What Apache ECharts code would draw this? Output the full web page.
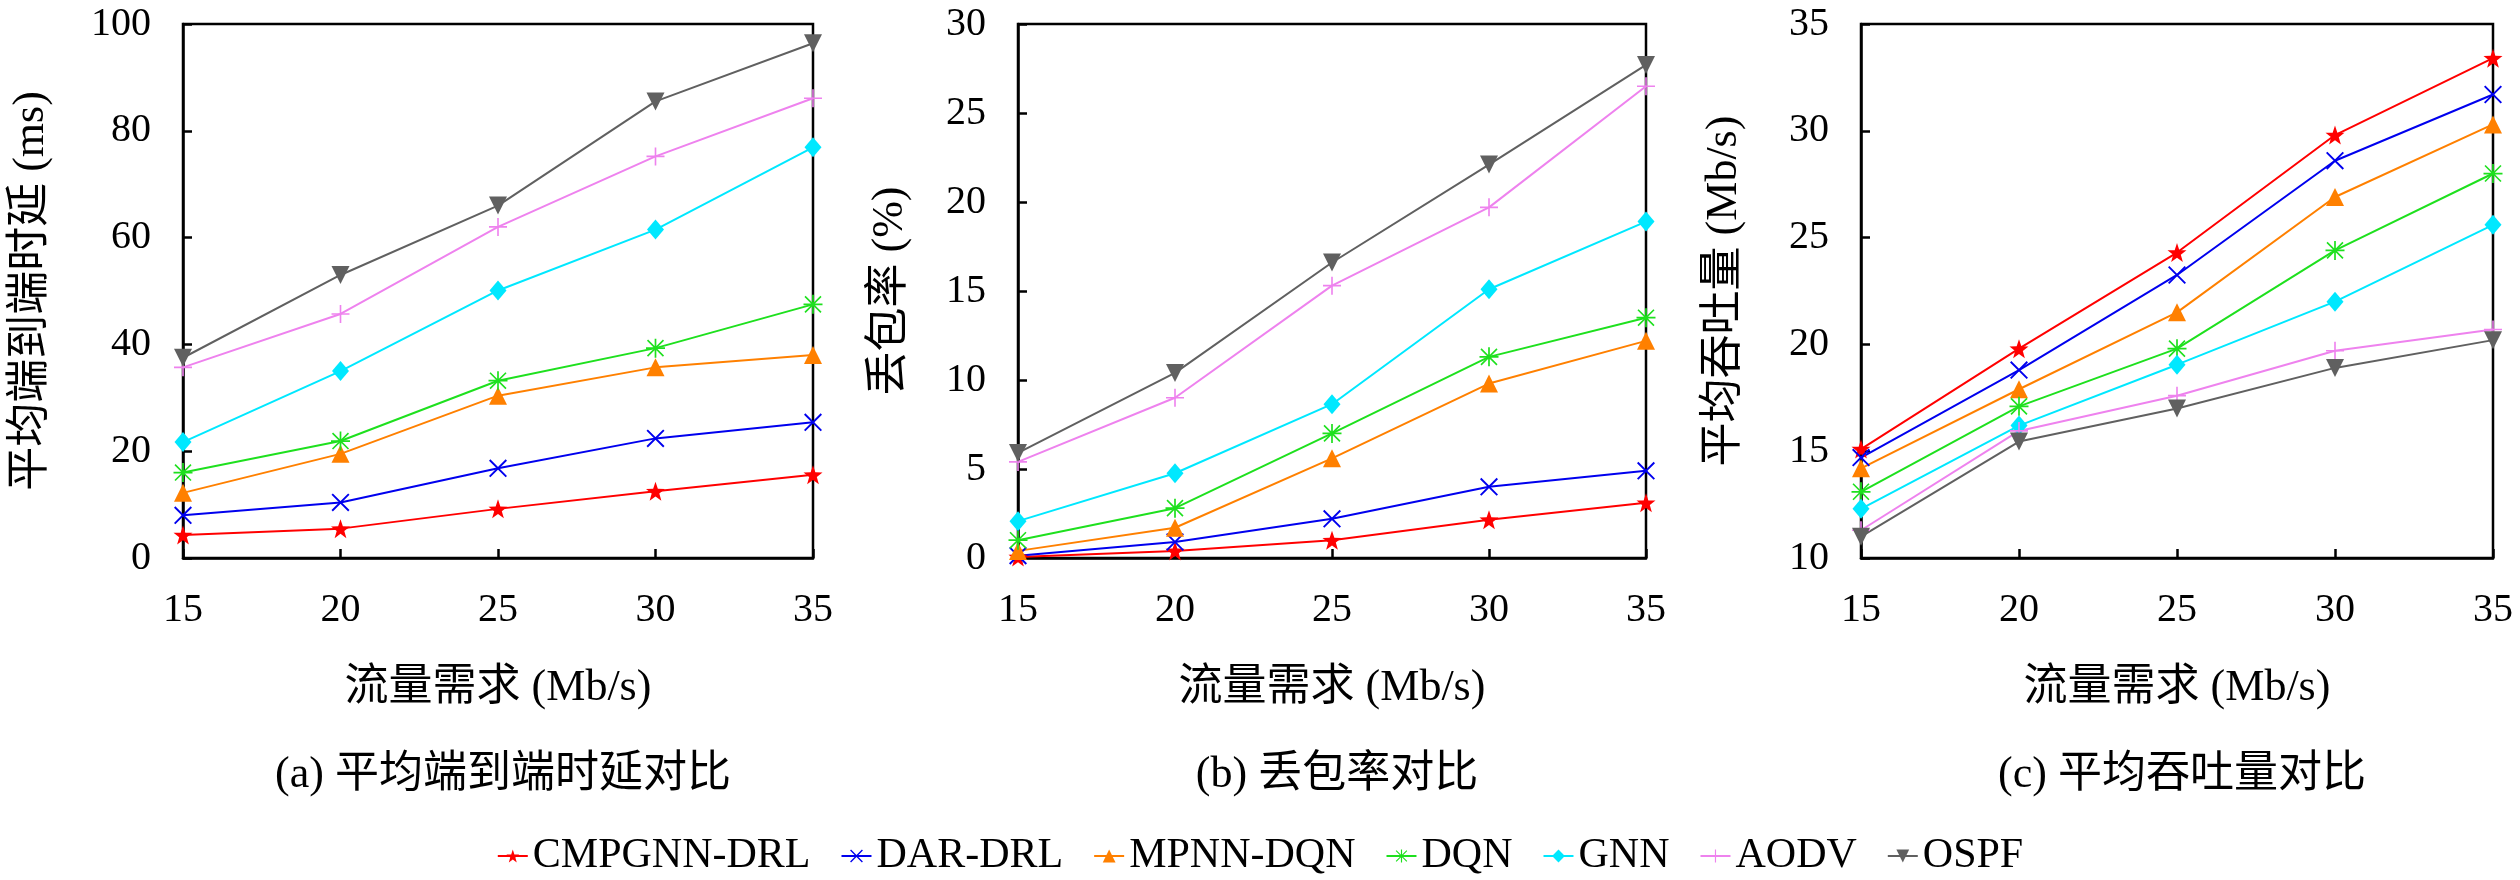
<!DOCTYPE html>
<html>
<head>
<meta charset="utf-8">
<script src="https://cdn.jsdelivr.net/npm/echarts@6/dist/echarts.min.js"></script>
<style>
  html, body { margin: 0; padding: 0; background: #fff; }
  #main { width: 2520px; height: 880px; }
</style>
</head>
<body>
<div id="main"></div>
<script>
var chart = echarts.init(document.getElementById('main'));

// 流量需求 (Mb/s)
var traffic = [15, 20, 25, 30, 35];
var methods = ['CMPGNN-DRL', 'DAR-DRL', 'MPNN-DQN', 'DQN', 'GNN', 'AODV', 'OSPF'];

// (a) 平均端到端时延 (ms)
var delayCMPGNN = [4.3, 5.5, 9.2, 12.5, 15.6];
var delayDAR    = [8.0, 10.4, 16.8, 22.4, 25.4];
var delayMPNN   = [12.2, 19.5, 30.4, 35.7, 38.0];
var delayDQN    = [16.0, 21.9, 33.2, 39.3, 47.5];
var delayGNN    = [21.7, 35.0, 50.1, 61.5, 76.9];
var delayAODV   = [35.7, 45.7, 62.0, 75.2, 86.1];
var delayOSPF   = [37.5, 53.0, 66.0, 85.5, 96.4];

// (b) 丢包率 (%)
var lossCMPGNN = [0.06, 0.4, 1.0, 2.15, 3.1];
var lossDAR    = [0.13, 0.9, 2.2, 4.0, 4.9];
var lossMPNN   = [0.4, 1.7, 5.6, 9.8, 12.2];
var lossDQN    = [1.0, 2.8, 7.0, 11.3, 13.5];
var lossGNN    = [2.07, 4.76, 8.64, 15.1, 18.9];
var lossAODV   = [5.4, 9.0, 15.3, 19.7, 26.5];
var lossOSPF   = [5.9, 10.4, 16.6, 22.1, 27.7];

// (c) 平均吞吐量 (Mb/s)
var thrCMPGNN = [15.1, 19.8, 24.3, 29.8, 33.4];
var thrDAR    = [14.7, 18.8, 23.25, 28.6, 31.7];
var thrMPNN   = [14.2, 17.9, 21.5, 26.9, 30.3];
var thrDQN    = [13.1, 17.1, 19.8, 24.4, 28.0];
var thrGNN    = [12.3, 16.2, 19.05, 22.0, 25.6];
var thrAODV   = [11.3, 15.95, 17.6, 19.7, 20.7];
var thrOSPF   = [11.0, 15.45, 17.0, 18.9, 20.2];

var delayData = [delayCMPGNN, delayDAR, delayMPNN, delayDQN, delayGNN, delayAODV, delayOSPF];
var lossData  = [lossCMPGNN, lossDAR, lossMPNN, lossDQN, lossGNN, lossAODV, lossOSPF];
var thrData   = [thrCMPGNN, thrDAR, thrMPNN, thrDQN, thrGNN, thrAODV, thrOSPF];

var colors = ['#ff0000', '#0000ee', '#ff8000', '#1ee01e', '#00e8ff', '#ee82ee', '#606060'];

var starPath  = 'path://M0,-10 L2.351,-3.236 L9.511,-3.09 L3.804,1.236 L5.878,8.09 L0,4 L-5.878,8.09 L-3.804,1.236 L-9.511,-3.09 L-2.351,-3.236 Z';
var crossPath = 'path://M-8.5,-10 L10,8.5 L8.5,10 L-10,-8.5 Z M8.5,-10 L10,-8.5 L-8.5,10 L-10,8.5 Z';
var plusPath  = 'path://M-0.9,-10 L0.9,-10 L0.9,-0.9 L10,-0.9 L10,0.9 L0.9,0.9 L0.9,10 L-0.9,10 L-0.9,0.9 L-10,0.9 L-10,-0.9 L-0.9,-0.9 Z';
var astPath   = 'path://M-0.9,-10 L0.9,-10 L0.9,-0.9 L10,-0.9 L10,0.9 L0.9,0.9 L0.9,10 L-0.9,10 L-0.9,0.9 L-10,0.9 L-10,-0.9 L-0.9,-0.9 Z M-7.8,-9 L9,7.8 L7.8,9 L-9,-7.8 Z M7.8,-9 L9,-7.8 L-7.8,9 L-9,7.8 Z';

var symbols = [starPath, crossPath, 'triangle', astPath, 'diamond', plusPath, 'triangle'];
var symbolSizes = [19, 18, 18, 19, [17, 20], 18, 18];
var symbolRotates = [0, 0, 0, 0, 0, 0, 180];

var serif = 'Liberation Serif, Noto Sans CJK SC, serif';

var grids = [
  {left: 183, top: 24, width: 630, height: 534},
  {left: 1018, top: 24, width: 628, height: 534},
  {left: 1861, top: 24, width: 632, height: 534}
];
grids.forEach(function(g){
  g.show = true;
  g.borderColor = '#000';
  g.borderWidth = 2.5;
  g.backgroundColor = 'transparent';
});

function axisBase(i, name, gap){
  return {
    gridIndex: i,
    type: 'value',
    name: name, nameLocation: 'middle', nameGap: gap,
    nameTextStyle: {fontFamily: serif, fontSize: 44, color: '#000'},
    axisLine: {lineStyle: {color: '#000', width: 2.5}},
    axisTick: {inside: true, length: 9, lineStyle: {color: '#000', width: 2.5}},
    axisLabel: {fontFamily: serif, fontSize: 40, color: '#000', margin: 32},
    splitLine: {show: false}
  };
}

function xAxisFor(i){
  var ax = axisBase(i, '流量需求 (Mb/s)', 108);
  ax.min = 15; ax.max = 35; ax.interval = 5;
  return ax;
}

function yAxisFor(i, name, min, max, interval, gap){
  var ax = axisBase(i, name, gap);
  ax.min = min; ax.max = max; ax.interval = interval;
  return ax;
}

var series = [];
[delayData, lossData, thrData].forEach(function(panel, p){
  panel.forEach(function(vals, m){
    series.push({
      name: methods[m],
      type: 'line',
      xAxisIndex: p,
      yAxisIndex: p,
      data: traffic.map(function(t, k){ return [t, vals[k]]; }),
      symbol: symbols[m],
      symbolSize: symbolSizes[m],
      symbolRotate: symbolRotates[m],
      showAllSymbol: true,
      clip: false,
      lineStyle: {color: colors[m], width: 2},
      itemStyle: {color: colors[m]},
      animation: false
    });
  });
});

var captions = ['(a) 平均端到端时延对比', '(b) 丢包率对比', '(c) 平均吞吐量对比'];

chart.setOption({
  backgroundColor: '#fff',
  animation: false,
  textStyle: {fontFamily: serif, color: '#000'},
  title: captions.map(function(c, i){
    return {
      text: c,
      left: grids[i].left + grids[i].width / 2,
      top: 748,
      textAlign: 'center',
      textStyle: {fontFamily: serif, fontSize: 44, fontWeight: 'normal', color: '#000'}
    };
  }),
  legend: {
    data: methods,
    left: 'center',
    top: 830,
    itemWidth: 30,
    itemHeight: 16,
    itemGap: 30,
    textStyle: {fontFamily: serif, fontSize: 42, color: '#000'}
  },
  grid: grids,
  xAxis: [xAxisFor(0), xAxisFor(1), xAxisFor(2)],
  yAxis: [
    yAxisFor(0, '平均端到端时延 (ms)', 0, 100, 20, 130),
    yAxisFor(1, '丢包率 (%)', 0, 30, 5, 106),
    yAxisFor(2, '平均吞吐量 (Mb/s)', 10, 35, 5, 115)
  ],
  series: series
});
</script>
</body>
</html>
